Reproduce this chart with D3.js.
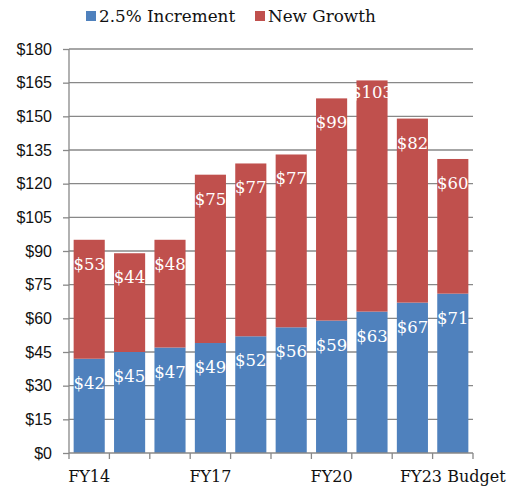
<!DOCTYPE html>
<html>
<head>
<meta charset="utf-8">
<script src="https://cdn.jsdelivr.net/npm/d3@7"></script>
<style>
  body { margin: 0; background: #fff; }
  svg { font-family: "DejaVu Serif", serif; }
  .grid line { stroke: #888; stroke-width: 1.3; }
  .axis path, .axis line { stroke: #888; stroke-width: 1.3; }
  .axis text { fill: #111; font-size: 16px; }
</style>
</head>
<body>
<svg width="508" height="488"></svg>
<script>
var categories = ["FY14", "FY15", "FY16", "FY17", "FY18", "FY19", "FY20", "FY21", "FY22", "FY23 Budget"];
var shownLabels = ["FY14", "FY17", "FY20", "FY23 Budget"];
var increment = [42, 45, 47, 49, 52, 56, 59, 63, 67, 71];
var newGrowth = [53, 44, 48, 75, 77, 77, 99, 103, 82, 60];
var yTicks = [0, 15, 30, 45, 60, 75, 90, 105, 120, 135, 150, 165, 180];
var seriesNames = ["2.5% Increment", "New Growth"];
var colors = ["#4F81BD", "#C0504D"];

var svg = d3.select("svg");
var margin = { top: 49, left: 69, right: 35, bottom: 35 };
var width = 508 - margin.left - margin.right;
var height = 488 - margin.top - margin.bottom;

var g = svg.append("g").attr("transform", "translate(" + margin.left + "," + margin.top + ")");

var xScale = d3.scaleBand().domain(categories).range([0, width]).paddingInner(0.23).paddingOuter(0.115);
var yScale = d3.scaleLinear().domain([0, 180]).range([height, 0]);

// gridlines
g.append("g").attr("class", "grid")
  .selectAll("line").data(yTicks.filter(function (d) { return d > 0; }))
  .enter().append("line")
  .attr("x1", 0).attr("x2", width)
  .attr("y1", function (d) { return yScale(d); })
  .attr("y2", function (d) { return yScale(d); });

// stacked data
var rows = categories.map(function (c, i) {
  return { key: c, inc: increment[i], grow: newGrowth[i] };
});
var stack = d3.stack().keys(["inc", "grow"])(rows);

var layers = g.selectAll(".layer").data(stack).enter().append("g")
  .attr("class", "layer").attr("fill", function (d, i) { return colors[i]; });

layers.selectAll("rect").data(function (d) { return d; }).enter().append("rect")
  .attr("x", function (d) { return xScale(d.data.key); })
  .attr("width", xScale.bandwidth())
  .attr("y", function (d) { return yScale(d[1]); })
  .attr("height", function (d) { return yScale(d[0]) - yScale(d[1]); });

// value labels (inside end)
layers.selectAll("text").data(function (d) { return d; }).enter().append("text")
  .attr("text-anchor", "middle")
  .attr("fill", "#fff")
  .style("font-size", "16.5px")
  .text(function (d) { return "$" + (d[1] - d[0]); })
  .attr("x", function (d) { return xScale(d.data.key) + xScale.bandwidth() / 2; })
  .attr("y", function (d) {
    var w = this.getComputedTextLength();
    var off = w > xScale.bandwidth() + 4 ? 18 : 30;
    return yScale(d[1]) + off;
  });

// y axis
var yAxis = g.append("g").attr("class", "axis")
  .call(d3.axisLeft(yScale).tickValues(yTicks).tickSize(6).tickPadding(11)
    .tickFormat(function (d) { return "$" + d; }));
yAxis.select(".domain").attr("d", "M0," + height + "V0");

// x axis: ticks at category boundaries
var xAxis = g.append("g").attr("class", "axis")
  .attr("transform", "translate(0," + height + ")");
xAxis.append("line").attr("x1", 0).attr("x2", width);
xAxis.selectAll(".tk").data(d3.range(categories.length + 1)).enter().append("line")
  .attr("class", "tk")
  .attr("x1", function (i) { return i * width / categories.length; })
  .attr("x2", function (i) { return i * width / categories.length; })
  .attr("y1", 0).attr("y2", 6);
xAxis.selectAll("text").data(shownLabels).enter().append("text")
  .attr("text-anchor", "middle")
  .attr("x", function (d) { return xScale(d) + xScale.bandwidth() / 2; })
  .attr("y", 29)
  .text(function (d) { return d; });

// legend
var legend = svg.append("g").attr("transform", "translate(86,0)");
var legendX = [0, 169];
seriesNames.forEach(function (name, i) {
  var lg = legend.append("g").attr("transform", "translate(" + legendX[i] + ",0)");
  lg.append("rect").attr("x", 0).attr("y", 11).attr("width", 10).attr("height", 10).attr("fill", colors[i]);
  lg.append("text").attr("x", 13).attr("y", 22).style("font-size", "16.8px").attr("fill", "#111").text(name);
});
</script>
</body>
</html>
